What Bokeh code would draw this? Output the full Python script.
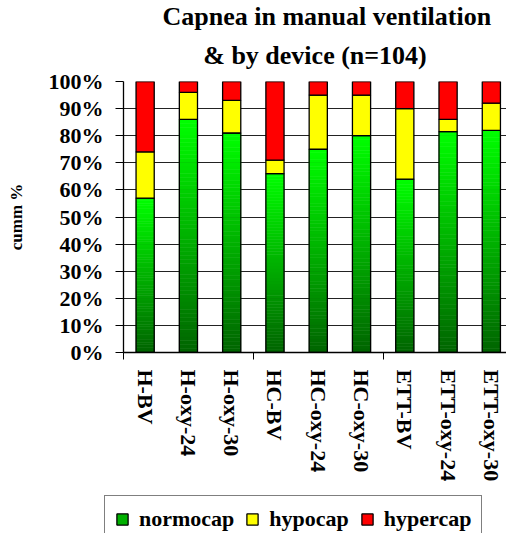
import numpy as np
from bokeh.plotting import figure
from bokeh.layouts import column, row
from bokeh.models import (FixedTicker, PrintfTickFormatter, Legend, LegendItem,
                          Title, Range1d, ColumnDataSource, Spacer)
from bokeh.embed import file_html
from bokeh.resources import INLINE

# ---- data ----
categories = ["H-BV", "H-oxy-24", "H-oxy-30", "HC-BV", "HC-oxy-24", "HC-oxy-30",
              "ETT-BV", "ETT-oxy-24", "ETT-oxy-30"]
normocap = [57, 86, 81, 66, 75, 80, 64, 81.5, 82]
hypocap = [17, 10, 12, 5, 20, 15, 26, 4.5, 10]
hypercap = [26, 4, 7, 29, 5, 5, 10, 14, 8]
series_names = ["normocap", "hypocap", "hypercap"]
series_colors = ["#00b000", "#ffff00", "#ff0000"]
group_bounds = [0, 3, 6, 9]
y_ticks = [0, 10, 20, 30, 40, 50, 60, 70, 80, 90, 100]

FONT = "Liberation Serif"
x = [i + 0.5 for i in range(len(categories))]
W = 0.42

p = figure(width=506, height=494, output_backend="svg", toolbar_location=None,
           x_range=Range1d(0, 8.85), y_range=Range1d(0, 100),
           min_border_left=123, min_border_right=0, min_border_top=81,
           min_border_bottom=142, outline_line_color=None,
           title="Capnea in manual ventilation")
p.title.text_font = FONT
p.title.text_font_size = "26px"
p.title.text_font_style = "bold"
p.title.text_color = "black"
p.title.align = "left"
p.title.offset = 39
p.title.standoff = -8
p.add_layout(Title(text="& by device (n=104)", text_font=FONT, text_color="black",
                   text_font_size="26px", text_font_style="bold",
                   align="center", standoff=24), "above")

src = ColumnDataSource(dict(x=x, n=normocap, h0=normocap,
                            h1=[a + b for a, b in zip(normocap, hypocap)],
                            r1=[a + b + c for a, b, c in zip(normocap, hypocap, hypercap)]))

# green gradient slices (dark at bottom, bright at top of each bar)
N = 60
sx, sb, st, sc = [], [], [], []
for xi, g in zip(x, normocap):
    for k in range(N):
        f = (k + 0.5) / N
        gval = int(round(100 + (255 - 100) * f))
        sx.append(xi)
        sb.append(g * k / N)
        st.append(g * (k + 1) / N)
        sc.append("#00%02x00" % gval)
p.vbar(x=sx, bottom=sb, top=st, width=W, fill_color=sc, line_color=sc, line_width=0.6)
p.vbar(x="x", bottom=0, top="n", width=W, source=src,
       fill_alpha=0, line_color="black", line_width=1.3)
p.vbar(x="x", bottom="h0", top="h1", width=W, source=src,
       fill_color=series_colors[1], line_color="black", line_width=1.3)
p.vbar(x="x", bottom="h1", top="r1", width=W, source=src,
       fill_color=series_colors[2], line_color="black", line_width=1.3)

# axes
p.xgrid.grid_line_color = None
p.ygrid.grid_line_color = "#222222"
p.ygrid.grid_line_width = 1
p.ygrid.ticker = FixedTicker(ticks=y_ticks)

p.xaxis.ticker = FixedTicker(ticks=x, minor_ticks=group_bounds)
p.xaxis.major_label_overrides = {xi: c for xi, c in zip(x, categories)}
p.xaxis.major_tick_line_color = None
p.xaxis.major_tick_out = 0
p.xaxis.major_tick_in = 0
p.xaxis.minor_tick_line_color = "black"
p.xaxis.minor_tick_out = 7
p.xaxis.minor_tick_in = 0
p.xaxis.major_label_orientation = "vertical"
p.xaxis.major_label_standoff = 10
p.xaxis.major_label_text_font = FONT
p.xaxis.major_label_text_font_size = "22px"
p.xaxis.major_label_text_font_style = "bold"
p.xaxis.major_label_text_color = "black"
p.xaxis.axis_line_color = "black"
p.xaxis.axis_line_width = 1.3

p.yaxis.ticker = FixedTicker(ticks=y_ticks)
p.yaxis.formatter = PrintfTickFormatter(format="%d%%")
p.yaxis.major_tick_out = 8
p.yaxis.major_tick_in = 0
p.yaxis.major_tick_line_color = "black"
p.yaxis.minor_tick_line_color = None
p.yaxis.major_label_standoff = 12
p.yaxis.major_label_text_font = FONT
p.yaxis.major_label_text_font_size = "22px"
p.yaxis.major_label_text_font_style = "bold"
p.yaxis.major_label_text_color = "black"
p.yaxis.axis_line_color = "black"
p.yaxis.axis_line_width = 1.3
p.yaxis.axis_label = "cumm %"
p.yaxis.axis_label_text_font = FONT
p.yaxis.axis_label_text_font_size = "17px"
p.yaxis.axis_label_text_font_style = "bold"
p.yaxis.axis_label_text_color = "black"
p.yaxis.axis_label_standoff = 20

# legend strip (separate small figure so the legend is not clipped)
lg = figure(width=402, height=39, output_backend="svg", toolbar_location=None,
            x_range=Range1d(0, 1), y_range=Range1d(0, 1),
            x_axis_type=None, y_axis_type=None, outline_line_color=None,
            min_border_left=0, min_border_right=0, min_border_top=1,
            min_border_bottom=0)
lg.grid.grid_line_color = None
items = []
for name, col in zip(series_names, series_colors):
    r = lg.vbar(x=np.array([np.nan]), top=np.array([np.nan]), width=0.1,
                fill_color=col, line_color="black", line_width=1.3)
    items.append(LegendItem(label=name, renderers=[r]))
legend = Legend(items=items, location="top_left", orientation="horizontal",
                label_text_font=FONT, label_text_font_size="22px",
                label_text_font_style="bold", label_text_color="black",
                glyph_width=14, glyph_height=14,
                label_standoff=10, spacing=11, padding=10, margin=0,
                border_line_color="black", border_line_width=1.5,
                background_fill_color="white", background_fill_alpha=1)
lg.add_layout(legend, "center")

layout = column(p, row(Spacer(width=104, height=39), lg, spacing=0), spacing=0)
open("out.html", "w").write(file_html(layout, INLINE))
